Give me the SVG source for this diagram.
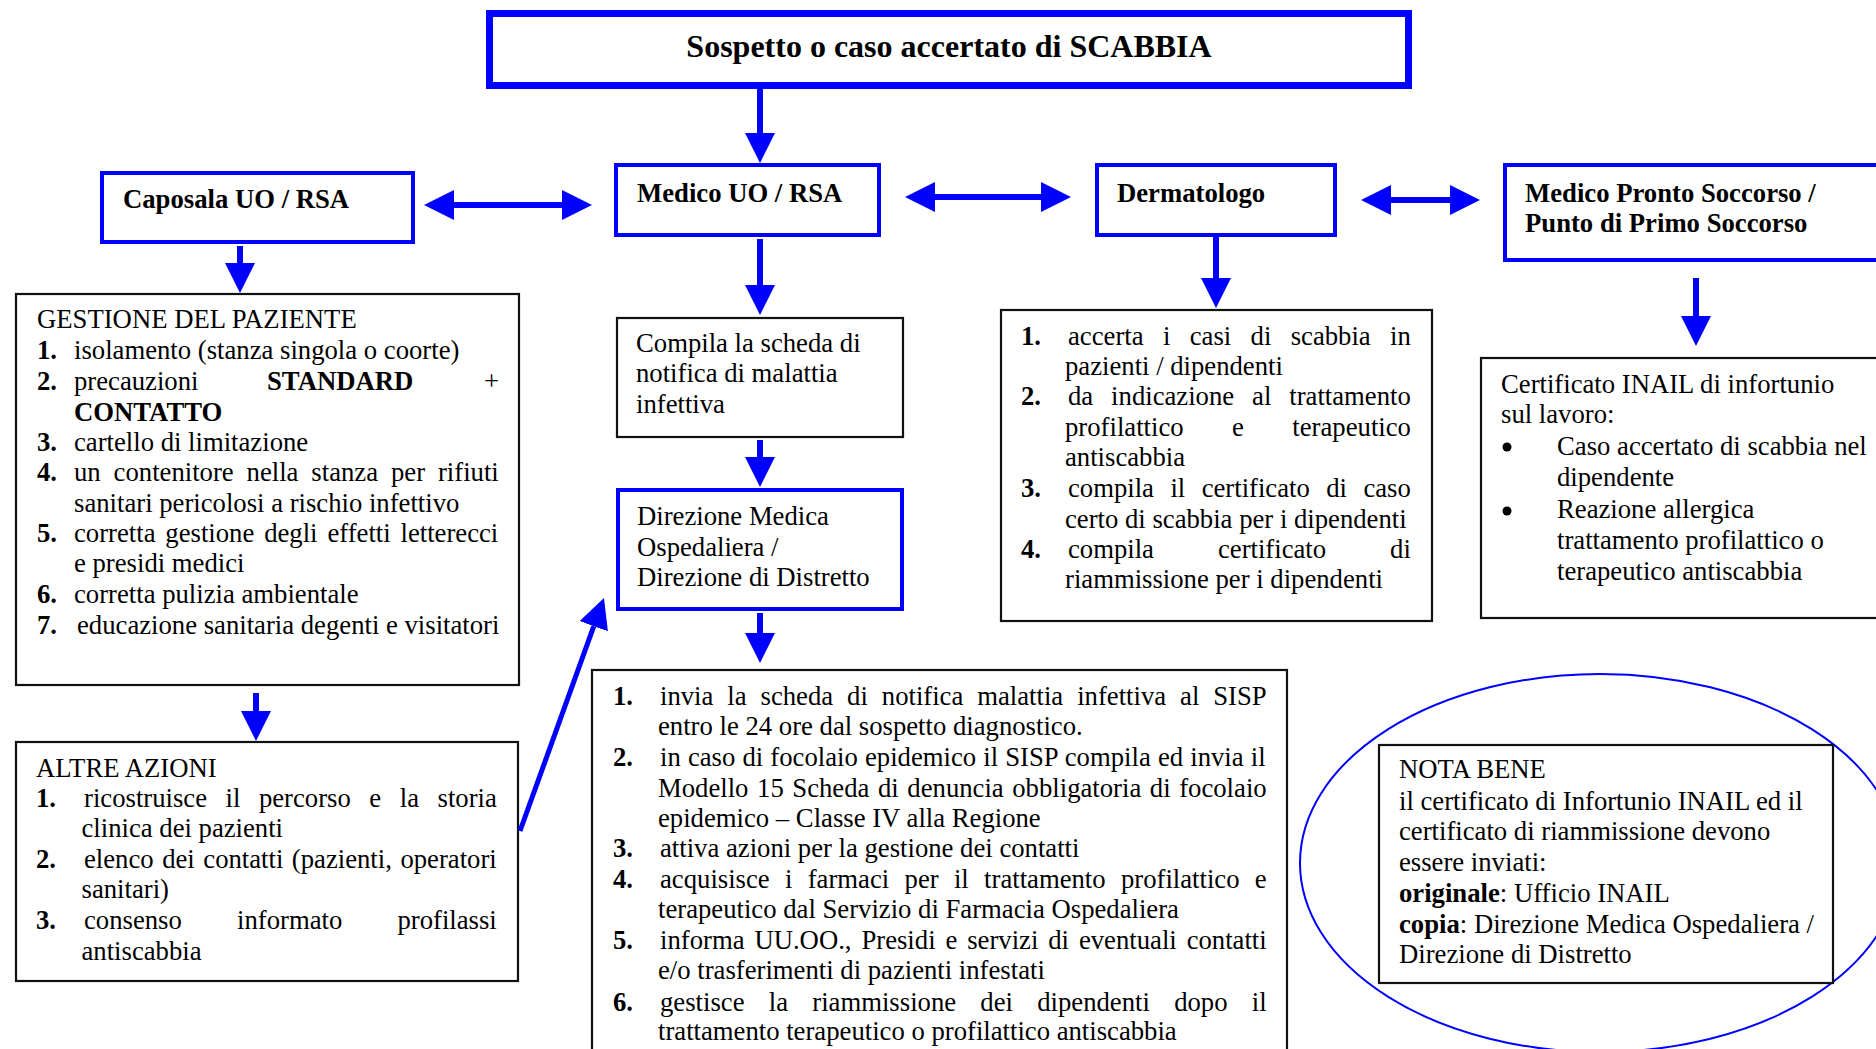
<svg xmlns="http://www.w3.org/2000/svg" width="1876" height="1049" viewBox="0 0 1876 1049">
<style>
text{font-family:"Liberation Serif","Times New Roman",serif;font-size:26.7px;fill:#000;font-variant-ligatures:none}
.b{font-weight:bold}
.e{text-anchor:end}
.title{font-size:32px;font-weight:bold;text-anchor:middle}
.bbox{fill:#fff;stroke:#0000ff;stroke-width:4}
.kbox{fill:#fff;stroke:#111;stroke-width:2.2}
.arr{stroke:#0000ff;stroke-width:6;fill:none}
</style>
<defs>
<marker id="ah" viewBox="0 0 30 30" markerUnits="userSpaceOnUse" markerWidth="30" markerHeight="30" refX="0" refY="15" orient="auto-start-reverse">
<path d="M0,0 L30,15 L0,30 Z" fill="#0000ff"/>
</marker>
</defs>
<rect width="1876" height="1049" fill="#fff"/>
<ellipse cx="1600" cy="863" rx="300" ry="189" fill="none" stroke="#0000ff" stroke-width="2"/>

<g id="title">
<rect x="489.5" y="13.5" width="919" height="72" fill="#fff" stroke="#0000ff" stroke-width="7"/>
<text class="title" x="949" y="57">Sospetto o caso accertato di SCABBIA</text>
</g>

<g id="caposala">
<rect class="bbox" x="102" y="173" width="311" height="69"/>
<text class="b" x="123" y="208">Caposala UO / RSA</text>
</g>

<g id="medico">
<rect class="bbox" x="616" y="165" width="263" height="70"/>
<text class="b" x="637" y="202">Medico UO / RSA</text>
</g>

<g id="dermatologo">
<rect class="bbox" x="1097" y="165" width="238" height="70"/>
<text class="b" x="1117" y="202">Dermatologo</text>
</g>

<g id="medico-ps">
<rect class="bbox" x="1505" y="165" width="400" height="95"/>
<text class="b" x="1525" y="202">Medico Pronto Soccorso /</text>
<text class="b" x="1525" y="232">Punto di Primo Soccorso</text>
</g>

<g id="gestione">
<rect class="kbox" x="16" y="294" width="503" height="391"/>
<text x="37" y="328">GESTIONE DEL PAZIENTE</text>
<text class="b" x="37" y="359">1.</text><text x="74" y="359">isolamento (stanza singola o coorte)</text>
<text class="b" x="37" y="390">2.</text><text x="74" y="390">precauzioni</text><text class="b" x="267" y="390">STANDARD</text><text class="e" x="499" y="390">+</text>
<text class="b" x="74" y="421">CONTATTO</text>
<text class="b" x="37" y="451">3.</text><text x="74" y="451">cartello di limitazione</text>
<text class="b" x="37" y="481">4.</text><text x="74" y="481" word-spacing="6.25">un contenitore nella stanza per rifiuti</text>
<text x="74" y="512">sanitari pericolosi a rischio infettivo</text>
<text class="b" x="37" y="542">5.</text><text x="74" y="542" word-spacing="3.2">corretta gestione degli effetti letterecci</text>
<text x="74" y="572">e presidi medici</text>
<text class="b" x="37" y="603">6.</text><text x="74" y="603">corretta pulizia ambientale</text>
<text class="b" x="37" y="634">7.</text><text x="77" y="634">educazione sanitaria degenti e visitatori</text>
</g>

<g id="altre">
<rect class="kbox" x="16" y="742" width="502" height="239"/>
<text x="36" y="777">ALTRE AZIONI</text>
<text class="b" x="36" y="807">1.</text><text x="84" y="807" word-spacing="11.87">ricostruisce il percorso e la storia</text>
<text x="81.5" y="837">clinica dei pazienti</text>
<text class="b" x="36" y="868">2.</text><text x="84" y="868" word-spacing="1.85">elenco dei contatti (pazienti, operatori</text>
<text x="81.5" y="898">sanitari)</text>
<text class="b" x="36" y="929">3.</text><text x="84" y="929" word-spacing="48.5">consenso informato profilassi</text>
<text x="81.5" y="960">antiscabbia</text>
</g>

<g id="compila">
<rect class="kbox" x="617" y="318" width="286" height="119"/>
<text x="636" y="352">Compila la scheda di</text>
<text x="636" y="382">notifica di malattia</text>
<text x="636" y="413">infettiva</text>
</g>

<g id="direzione">
<rect class="bbox" x="618" y="490" width="284" height="119"/>
<text x="637" y="525">Direzione Medica</text>
<text x="637" y="556">Ospedaliera /</text>
<text x="637" y="586">Direzione di Distretto</text>
</g>

<g id="dermatologo-azioni">
<rect class="kbox" x="1001" y="310" width="431" height="311"/>
<text class="b" x="1021" y="345">1.</text><text x="1068" y="345" word-spacing="12.7">accerta i casi di scabbia in</text>
<text x="1065" y="375">pazienti / dipendenti</text>
<text class="b" x="1021" y="405">2.</text><text x="1068" y="405" word-spacing="11.26">da indicazione al trattamento</text>
<text x="1065" y="436" word-spacing="41.8">profilattico e terapeutico</text>
<text x="1065" y="466">antiscabbia</text>
<text class="b" x="1021" y="497">3.</text><text x="1068" y="497" word-spacing="9.75">compila il certificato di caso</text>
<text x="1065" y="528">certo di scabbia per i dipendenti</text>
<text class="b" x="1021" y="558">4.</text><text x="1068" y="558" word-spacing="57.3">compila certificato di</text>
<text x="1065" y="588">riammissione per i dipendenti</text>
</g>

<g id="certificato">
<rect class="kbox" x="1481" y="358" width="420" height="260"/>
<text x="1501" y="393">Certificato INAIL di infortunio</text>
<text x="1501" y="423">sul lavoro:</text>
<circle cx="1507" cy="447" r="4.5" fill="#000"/>
<text x="1557" y="455">Caso accertato di scabbia nel</text>
<text x="1557" y="486">dipendente</text>
<circle cx="1507" cy="511" r="4.5" fill="#000"/>
<text x="1557" y="518">Reazione allergica</text>
<text x="1557" y="549">trattamento profilattico o</text>
<text x="1557" y="580">terapeutico antiscabbia</text>
</g>

<g id="direzione-azioni">
<rect class="kbox" x="592" y="670" width="695" height="400"/>
<text class="b" x="613" y="705">1.</text><text x="660" y="705" word-spacing="7.28">invia la scheda di notifica malattia infettiva al SISP</text>
<text x="658" y="735">entro le 24 ore dal sospetto diagnostico.</text>
<text class="b" x="613" y="766">2.</text><text x="660" y="766" word-spacing="0.47">in caso di focolaio epidemico il SISP compila ed invia il</text>
<text x="658" y="797" word-spacing="1.93">Modello 15 Scheda di denuncia obbligatoria di focolaio</text>
<text x="658" y="827">epidemico – Classe IV alla Regione</text>
<text class="b" x="613" y="857">3.</text><text x="660" y="857">attiva azioni per la gestione dei contatti</text>
<text class="b" x="613" y="888">4.</text><text x="660" y="888" word-spacing="8.65">acquisisce i farmaci per il trattamento profilattico e</text>
<text x="658" y="918">terapeutico dal Servizio di Farmacia Ospedaliera</text>
<text class="b" x="613" y="949">5.</text><text x="660" y="949" word-spacing="3.24">informa UU.OO., Presidi e servizi di eventuali contatti</text>
<text x="658" y="979">e/o trasferimenti di pazienti infestati</text>
<text class="b" x="613" y="1011">6.</text><text x="660" y="1011" word-spacing="17.6">gestisce la riammissione dei dipendenti dopo il</text>
<text x="658" y="1040">trattamento terapeutico o profilattico antiscabbia</text>
</g>

<g id="nota-bene">
<rect class="kbox" x="1379" y="745" width="454" height="238"/>
<text x="1399" y="778">NOTA BENE</text>
<text x="1399" y="810">il certificato di Infortunio INAIL ed il</text>
<text x="1399" y="840">certificato di riammissione devono</text>
<text x="1399" y="871">essere inviati:</text>
<text x="1399" y="902"><tspan class="b">originale</tspan>: Ufficio INAIL</text>
<text x="1399" y="933"><tspan class="b">copia</tspan>: Direzione Medica Ospedaliera /</text>
<text x="1399" y="963">Direzione di Distretto</text>
</g>

<g id="connectors">
<line class="arr" x1="760" y1="89" x2="760" y2="133" marker-end="url(#ah)"/>
<line class="arr" x1="240" y1="246" x2="240" y2="263" marker-end="url(#ah)"/>
<line class="arr" x1="760" y1="239" x2="760" y2="285" marker-end="url(#ah)"/>
<line class="arr" x1="760" y1="440" x2="760" y2="457" marker-end="url(#ah)"/>
<line class="arr" x1="760" y1="613" x2="760" y2="633" marker-end="url(#ah)"/>
<line class="arr" x1="256" y1="693" x2="256" y2="711" marker-end="url(#ah)"/>
<line class="arr" x1="1216" y1="237" x2="1216" y2="278" marker-end="url(#ah)"/>
<line class="arr" x1="1696" y1="278" x2="1696" y2="316" marker-end="url(#ah)"/>
<line class="arr" x1="454" y1="205" x2="562" y2="205" marker-start="url(#ah)" marker-end="url(#ah)"/>
<line class="arr" x1="935" y1="197" x2="1041" y2="197" marker-start="url(#ah)" marker-end="url(#ah)"/>
<line class="arr" x1="1391" y1="200" x2="1450" y2="200" marker-start="url(#ah)" marker-end="url(#ah)"/>
<line class="arr" style="stroke-width:5" x1="520" y1="831" x2="593.8" y2="626.2" marker-end="url(#ah)"/>
</g>
</svg>
